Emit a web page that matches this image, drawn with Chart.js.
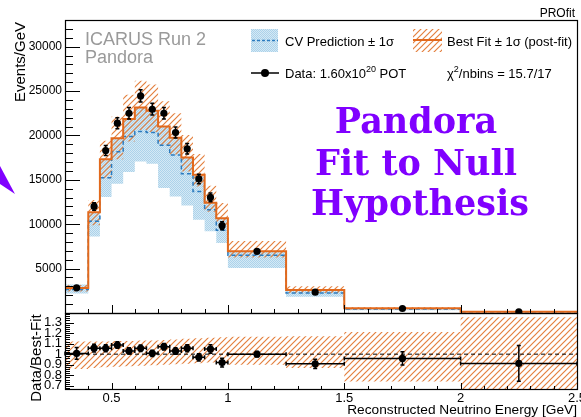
<!DOCTYPE html>
<html>
<head>
<meta charset="utf-8">
<script src="https://cdn.jsdelivr.net/npm/chart.js@4"></script>
<style>
  body { margin: 0; background: #fff; }
  #wrap { position: relative; width: 581px; height: 417px; }
  canvas { position: absolute; left: 0; top: 0; }
</style>
</head>
<body>
<div id="wrap">
  <canvas id="ratioChart" width="581" height="417"></canvas>
  <canvas id="mainChart" width="581" height="417"></canvas>
</div>
<script>
// reconstructed energy binning [GeV]
let binEdges = [0.3, 0.4, 0.45, 0.5, 0.55, 0.6, 0.65, 0.7, 0.75, 0.8, 0.85, 0.9, 0.95, 1.0, 1.25, 1.5, 2.0, 2.5];

// all rates in events / GeV
let dataRate = [2830, 12000, 18300, 21380, 22500, 24450, 22950, 22500, 20320, 18490, 15100, 13020, 9830, 6950, 2340, 505, 135];
let dataErr  = [155, 420, 560, 620, 650, 690, 660, 650, 620, 590, 530, 500, 440, 175, 110, 33, 25];
let bestFit  = [2810, 11360, 17330, 19670, 21840, 23150, 22770, 21010, 19730, 17510, 15570, 12410, 10680, 6950, 2577, 526, 148];
let cvPred   = [2650, 10320, 15230, 18150, 19870, 20430, 20320, 18900, 17800, 15680, 13690, 11630, 9310, 6500, 2250, 460, 120];
let cvLow    = [2190, 8630, 13060, 14560, 15870, 17060, 16800, 14070, 13130, 12120, 10510, 9200, 7890, 5080, 1820, 300, 60];
let cvHigh   = [3200, 11300, 17300, 19600, 21800, 23100, 22700, 21000, 19700, 17500, 15500, 12400, 10600, 6950, 2550, 520, 145];

// post-fit uncertainty, as a fraction of the best fit
let fitBandHi = [1.12, 1.12, 1.12, 1.125, 1.125, 1.13, 1.13, 1.135, 1.14, 1.145, 1.15, 1.155, 1.16, 1.165, 1.17, 1.21, 1.35];
let fitBandLo = [0.86, 0.87, 0.875, 0.88, 0.885, 0.89, 0.895, 0.90, 0.905, 0.91, 0.915, 0.92, 0.925, 0.90, 0.87, 0.74, 0.66];

let eventTicks = [5000, 10000, 15000, 20000, 25000, 30000];
let ratioTicks = [0.7, 0.8, 0.9, 1.0, 1.1, 1.2, 1.3];
let energyTicks = [0.5, 1, 1.5, 2, 2.5];

const SANS = '"Liberation Sans", Arial, sans-serif';
const ORANGE = '#e2691c';
const CV_BLUE = '#2b7bbf';
const PURPLE = '#8000ff';

function makeBluePattern() {
    let c = document.createElement('canvas');
    c.width = 2; c.height = 2;
    let g = c.getContext('2d');
    g.fillStyle = '#d4e9f5'; g.fillRect(0, 0, 2, 2);
    g.fillStyle = '#acd2ea'; g.fillRect(0, 0, 1, 1); g.fillRect(1, 1, 1, 1);
    return g.createPattern(c, 'repeat');
}

function makeHatch() {
    let c = document.createElement('canvas');
    c.width = 6; c.height = 6;
    let g = c.getContext('2d');
    g.strokeStyle = '#e4813f';
    g.lineWidth = 1.2;
    g.beginPath();
    g.moveTo(0, 6); g.lineTo(6, 0);
    g.moveTo(-1, 1); g.lineTo(1, -1);
    g.moveTo(5, 7); g.lineTo(7, 5);
    g.stroke();
    return g.createPattern(c, 'repeat');
}

let bluePattern = makeBluePattern();
let hatch = makeHatch();

// histogram as points on the bin edges; with stepped 'before' each bin's
// value is held from its low edge to its high edge
function stepPoints(values) {
    return binEdges.map((e, i) => ({ x: e, y: values[Math.min(i, values.length - 1)] }));
}
function binCenter(i) { return (binEdges[i] + binEdges[i + 1]) / 2; }

function histLine(values, extra) {
    return Object.assign({
        data: stepPoints(values), stepped: 'before', pointRadius: 0,
        borderWidth: 0, borderColor: 'transparent', fill: false
    }, extra);
}

function text(ctx, str, x, y, font, color, align) {
    ctx.font = font;
    ctx.fillStyle = color || '#000';
    ctx.textAlign = align || 'left';
    ctx.textBaseline = 'alphabetic';
    ctx.fillText(str, x, y);
    return ctx.measureText(str).width;
}

// frame plus ROOT-style inward ticks
function frameTicks(yStep, yMajorEvery, yFrom, yTo, yLen, xLen) {
    return {
        id: 'frameTicks',
        afterDraw(chart) {
            let { ctx, chartArea: a, scales: { x, y } } = chart;
            ctx.save();
            ctx.strokeStyle = '#000';
            ctx.lineWidth = 1;
            ctx.beginPath();
            for (let k = 3; k <= 24; k++) {
                let px = Math.round(x.getPixelForValue(k / 10)) + 0.5;
                let len = k % 5 === 0 ? xLen[0] : xLen[1];
                ctx.moveTo(px, a.bottom); ctx.lineTo(px, a.bottom - len);
            }
            for (let k = yFrom; k <= yTo; k++) {
                let py = Math.round(y.getPixelForValue(k * yStep)) + 0.5;
                let len = k % yMajorEvery === 0 ? yLen[0] : yLen[1];
                ctx.moveTo(a.left, py); ctx.lineTo(a.left + len, py);
            }
            ctx.stroke();
            ctx.lineWidth = 1.2;
            ctx.strokeRect(Math.round(a.left) + 0.5, Math.round(a.top) + 0.5,
                Math.round(a.right - a.left), Math.round(a.bottom - a.top));
            ctx.restore();
        }
    };
}

// vertical stat errors on the event rate
const mainErrorBars = {
    id: 'mainErrorBars',
    afterDatasetsDraw(chart) {
        let { ctx, scales: { x, y } } = chart;
        ctx.save();
        ctx.strokeStyle = '#000';
        ctx.lineWidth = 1.5;
        ctx.beginPath();
        dataRate.forEach((v, i) => {
            let px = x.getPixelForValue(binCenter(i));
            let top = y.getPixelForValue(v + dataErr[i]);
            let bot = y.getPixelForValue(v - dataErr[i]);
            ctx.moveTo(px, top); ctx.lineTo(px, bot);
            ctx.moveTo(px - 2, top); ctx.lineTo(px + 2, top);
            ctx.moveTo(px - 2, bot); ctx.lineTo(px + 2, bot);
        });
        ctx.stroke();
        ctx.restore();
    }
};

// ratio errors: bin width horizontally, stat error vertically
const ratioErrorBars = {
    id: 'ratioErrorBars',
    afterDatasetsDraw(chart) {
        let { ctx, scales: { x, y } } = chart;
        ctx.save();
        ctx.strokeStyle = '#000';
        ctx.lineWidth = 1.5;
        ctx.beginPath();
        dataRate.forEach((v, i) => {
            let r = v / bestFit[i];
            let dr = dataErr[i] / bestFit[i];
            let px = x.getPixelForValue(binCenter(i));
            let py = y.getPixelForValue(r);
            let x0 = x.getPixelForValue(binEdges[i]);
            let x1 = x.getPixelForValue(binEdges[i + 1]);
            let top = y.getPixelForValue(r + dr);
            let bot = y.getPixelForValue(r - dr);
            ctx.moveTo(x0, py); ctx.lineTo(x1, py);
            ctx.moveTo(x0, py - 2); ctx.lineTo(x0, py + 2);
            ctx.moveTo(x1, py - 2); ctx.lineTo(x1, py + 2);
            ctx.moveTo(px, top); ctx.lineTo(px, bot);
            ctx.moveTo(px - 2, top); ctx.lineTo(px + 2, top);
            ctx.moveTo(px - 2, bot); ctx.lineTo(px + 2, bot);
        });
        ctx.stroke();
        ctx.restore();
    }
};

const mainDecor = {
    id: 'mainDecor',
    afterDraw(chart) {
        let ctx = chart.ctx;
        ctx.save();

        // y title, top aligned
        ctx.save();
        ctx.translate(25, 22);
        ctx.rotate(-Math.PI / 2);
        text(ctx, 'Events/GeV', 0, 0, '15px ' + SANS, '#000', 'right');
        ctx.restore();

        text(ctx, 'PROfit', 575, 17, '12px ' + SANS, '#000', 'right');
        text(ctx, 'ICARUS Run 2', 85, 45, '18px ' + SANS, '#9a9a9a');
        text(ctx, 'Pandora', 85, 63, '18px ' + SANS, '#9a9a9a');

        // legend, first row
        ctx.fillStyle = bluePattern;
        ctx.fillRect(251, 29, 27, 23);
        ctx.strokeStyle = CV_BLUE;
        ctx.lineWidth = 1.5;
        ctx.setLineDash([3, 2]);
        ctx.beginPath(); ctx.moveTo(252, 40.5); ctx.lineTo(278, 40.5); ctx.stroke();
        ctx.setLineDash([]);
        text(ctx, 'CV Prediction ± 1σ', 285, 46, '13px ' + SANS);

        ctx.fillStyle = hatch;
        ctx.fillRect(413, 29, 29, 23);
        ctx.strokeStyle = ORANGE;
        ctx.lineWidth = 2;
        ctx.beginPath(); ctx.moveTo(413, 40); ctx.lineTo(442, 40); ctx.stroke();
        text(ctx, 'Best Fit ± 1σ (post-fit)', 447, 46, '13px ' + SANS);

        // legend, second row
        ctx.strokeStyle = '#000';
        ctx.lineWidth = 1.5;
        ctx.beginPath(); ctx.moveTo(251, 73); ctx.lineTo(279, 73); ctx.stroke();
        ctx.fillStyle = '#000';
        ctx.beginPath(); ctx.arc(265, 73, 4, 0, Math.PI * 2); ctx.fill();

        let tx = 285;
        tx += text(ctx, 'Data: 1.60x10', tx, 78, '13px ' + SANS);
        tx += text(ctx, '20', tx, 72, '9px ' + SANS);
        text(ctx, ' POT', tx, 78, '13px ' + SANS);

        tx = 447;
        tx += text(ctx, 'χ', tx, 78, '13px ' + SANS);
        tx += text(ctx, '2', tx, 72, '9px ' + SANS);
        text(ctx, '/nbins = 15.7/17', tx, 78, '13px ' + SANS);

        // purple caption
        let serif = 'bold 35px "DejaVu Serif", Georgia, serif';
        text(ctx, 'Pandora', 416, 133, serif, PURPLE, 'center');
        text(ctx, 'Fit to Null', 416, 175, serif, PURPLE, 'center');
        text(ctx, 'Hypothesis', 420, 215, serif, PURPLE, 'center');

        // arrow head poking in from the left edge
        ctx.fillStyle = PURPLE;
        ctx.beginPath();
        ctx.moveTo(0, 166); ctx.lineTo(15, 194); ctx.lineTo(0, 184);
        ctx.closePath();
        ctx.fill();

        ctx.restore();
    }
};

const ratioDecor = {
    id: 'ratioDecor',
    afterDraw(chart) {
        let ctx = chart.ctx;
        ctx.save();
        ctx.translate(41, 358);
        ctx.rotate(-Math.PI / 2);
        text(ctx, 'Data/Best-Fit', 0, 0, '15px ' + SANS, '#000', 'center');
        ctx.restore();
        text(ctx, 'Reconstructed Neutrino Energy [GeV]', 577, 414, '13.7px ' + SANS, '#000', 'right');
    }
};

function yAxis(min, max, ticks, size, fmt) {
    return {
        type: 'linear', min: min, max: max,
        afterBuildTicks: s => { s.ticks = ticks.map(v => ({ value: v })); },
        afterFit: s => { s.width = 65; s.paddingTop = 0; s.paddingBottom = 0; },
        grid: { display: false, drawTicks: false },
        border: { display: false },
        ticks: { font: { family: SANS, size: size }, color: '#000', padding: 3, autoSkip: false, callback: fmt }
    };
}

let mainChart = new Chart(document.getElementById('mainChart').getContext('2d'), {
    type: 'line',
    data: {
        datasets: [
            histLine(cvLow, { order: 7 }),
            histLine(cvHigh, { order: 6, fill: '-1', backgroundColor: bluePattern }),
            histLine(bestFit.map((v, i) => v * fitBandLo[i]), { order: 5 }),
            histLine(bestFit.map((v, i) => v * fitBandHi[i]), { order: 4, fill: '-1', backgroundColor: hatch }),
            histLine(cvPred, { order: 3, borderColor: CV_BLUE, borderWidth: 1.5, borderDash: [4, 3] }),
            histLine(bestFit, { order: 2, borderColor: ORANGE, borderWidth: 2 }),
            {
                data: dataRate.map((v, i) => ({ x: binCenter(i), y: v })),
                showLine: false, pointRadius: 3.6, pointBorderWidth: 0,
                pointBackgroundColor: '#000', order: 1
            }
        ]
    },
    options: {
        responsive: false,
        animation: false,
        events: [],
        layout: { padding: { left: 0, top: 20, right: 4, bottom: 104 } },
        scales: {
            x: { type: 'linear', min: 0.3, max: 2.5, display: false },
            y: yAxis(0, 33000, eventTicks, 12, v => String(v))
        },
        plugins: { legend: { display: false }, tooltip: { enabled: false } }
    },
    plugins: [frameTicks(1000, 5, 1, 33, [15, 8], [8, 4]), mainErrorBars, mainDecor]
});

let ratioChart = new Chart(document.getElementById('ratioChart').getContext('2d'), {
    type: 'line',
    data: {
        datasets: [
            histLine(fitBandLo, { order: 4 }),
            histLine(fitBandHi, { order: 3, fill: '-1', backgroundColor: hatch }),
            {
                data: [{ x: 0.3, y: 1 }, { x: 2.5, y: 1 }],
                borderColor: '#000', borderWidth: 1, borderDash: [4, 3], pointRadius: 0, order: 2
            },
            {
                data: dataRate.map((v, i) => ({ x: binCenter(i), y: v / bestFit[i] })),
                showLine: false, pointRadius: 3.6, pointBorderWidth: 0,
                pointBackgroundColor: '#000', order: 1
            }
        ]
    },
    options: {
        responsive: false,
        animation: false,
        events: [],
        layout: { padding: { left: 0, top: 313, right: 4, bottom: 0 } },
        scales: {
            x: {
                type: 'linear', min: 0.3, max: 2.5,
                afterBuildTicks: s => { s.ticks = energyTicks.map(v => ({ value: v })); },
                afterFit: s => { s.height = 28; s.paddingLeft = 0; s.paddingRight = 0; },
                grid: { display: false, drawTicks: false },
                border: { display: false },
                ticks: { font: { family: SANS, size: 13 }, color: '#000', padding: 2, maxRotation: 0, autoSkip: false, callback: v => String(v) }
            },
            y: yAxis(0.67, 1.39, ratioTicks, 13, v => String(+v.toFixed(1)))
        },
        plugins: { legend: { display: false }, tooltip: { enabled: false } }
    },
    plugins: [frameTicks(0.02, 5, 34, 69, [9, 5], [6, 3]), ratioErrorBars, ratioDecor]
});
</script>
</body>
</html>
